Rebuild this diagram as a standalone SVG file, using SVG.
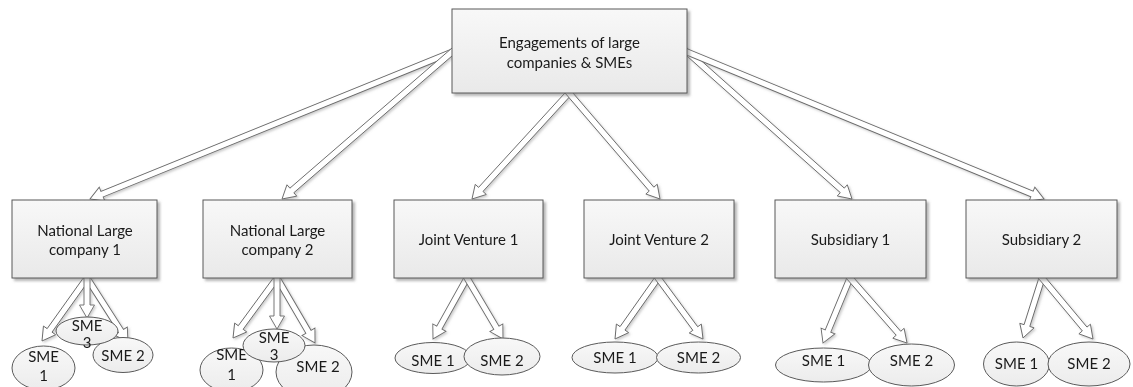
<svg xmlns="http://www.w3.org/2000/svg" width="1133" height="387" viewBox="0 0 1133 387">
  <defs>
    <linearGradient id="boxFill" x1="0" y1="0" x2="0" y2="1">
      <stop offset="0" stop-color="#f8f8f8"/>
      <stop offset="1" stop-color="#e9e9e9"/>
    </linearGradient>
    <linearGradient id="ovalFill" x1="0" y1="0" x2="0" y2="1">
      <stop offset="0" stop-color="#f8f8f8"/>
      <stop offset="1" stop-color="#ececec"/>
    </linearGradient>
    <filter id="shadow" x="-10%" y="-10%" width="130%" height="140%">
      <feDropShadow dx="2.5" dy="2.5" stdDeviation="1.2" flood-color="#7a7a7a" flood-opacity="0.55"/>
    </filter>
    <filter id="arrowShadow" x="-20%" y="-20%" width="140%" height="140%">
      <feDropShadow dx="1.5" dy="1.5" stdDeviation="0.8" flood-color="#999" flood-opacity="0.5"/>
    </filter>
  </defs>
  <style>
    .box { fill: url(#boxFill); stroke: #595959; stroke-width: 1; filter: url(#shadow); }
    .oval { fill: url(#ovalFill); stroke: #595959; stroke-width: 1; }
    .arrow { fill: #ffffff; stroke: #6a6a6a; stroke-width: 0.9; stroke-linejoin: miter; }
    text { font-family: Lato, "Liberation Sans", sans-serif; font-size: 15px; fill: #1a1a1a; text-anchor: middle; }
  </style>
  <rect width="1133" height="387" fill="#ffffff"/>

  <!-- hollow block arrows -->
  <g id="connectors" filter="url(#arrowShadow)">
    <path class="arrow" transform="translate(452,52) rotate(157.9)" d="M-6,-3 H377.7 V-7.5 L390.7,0 L377.7,7.5 V3 H-6 Z"/>
    <path class="arrow" transform="translate(452,52) rotate(139.15)" d="M-6,-3 H211.7 V-7.5 L224.7,0 L211.7,7.5 V3 H-6 Z"/>
    <path class="arrow" transform="translate(569,93) rotate(132.46)" d="M-6,-3 H130.7 V-7.5 L143.7,0 L130.7,7.5 V3 H-6 Z"/>
    <path class="arrow" transform="translate(569,93) rotate(49.35)" d="M-6,-3 H126.7 V-7.5 L139.7,0 L126.7,7.5 V3 H-6 Z"/>
    <path class="arrow" transform="translate(687,52) rotate(41.7)" d="M-6,-3 H208 V-7.5 L221,0 L208,7.5 V3 H-6 Z"/>
    <path class="arrow" transform="translate(687,52) rotate(22.38)" d="M-6,-3 H373.1 V-7.5 L386.1,0 L373.1,7.5 V3 H-6 Z"/>

    <path class="arrow" transform="translate(87,278) rotate(125.54)" d="M-6,-3 H64.4 V-7.5 L77.4,0 L64.4,7.5 V3 H-6 Z"/>
    <path class="arrow" transform="translate(87,278) rotate(57.36)" d="M-6,-3 H63 V-7.5 L76,0 L63,7.5 V3 H-6 Z"/>
    <path class="arrow" transform="translate(87,278) rotate(90)" d="M-6,-3 H27 V-7.5 L40,0 L27,7.5 V3 H-6 Z"/>

    <path class="arrow" transform="translate(277,278) rotate(126.25)" d="M-6,-3 H61.4 V-7.5 L74.4,0 L61.4,7.5 V3 H-6 Z"/>
    <path class="arrow" transform="translate(277,278) rotate(59.68)" d="M-6,-3 H62.3 V-7.5 L75.3,0 L62.3,7.5 V3 H-6 Z"/>
    <path class="arrow" transform="translate(277,278) rotate(90)" d="M-6,-3 H38 V-7.5 L51,0 L38,7.5 V3 H-6 Z"/>

    <path class="arrow" transform="translate(467,278) rotate(119.13)" d="M-6,-3 H56.8 V-7.5 L69.8,0 L56.8,7.5 V3 H-6 Z"/>
    <path class="arrow" transform="translate(467,278) rotate(59.45)" d="M-6,-3 H57.8 V-7.5 L70.8,0 L57.8,7.5 V3 H-6 Z"/>

    <path class="arrow" transform="translate(658,278) rotate(125.18)" d="M-6,-3 H61.6 V-7.5 L74.6,0 L61.6,7.5 V3 H-6 Z"/>
    <path class="arrow" transform="translate(658,278) rotate(53.58)" d="M-6,-3 H62.8 V-7.5 L75.8,0 L62.8,7.5 V3 H-6 Z"/>

    <path class="arrow" transform="translate(850,278) rotate(112.55)" d="M-6,-3 H57.4 V-7.5 L70.4,0 L57.4,7.5 V3 H-6 Z"/>
    <path class="arrow" transform="translate(850,278) rotate(48.75)" d="M-6,-3 H73.5 V-7.5 L86.5,0 L73.5,7.5 V3 H-6 Z"/>

    <path class="arrow" transform="translate(1042,278) rotate(107.57)" d="M-6,-3 H49.9 V-7.5 L62.9,0 L49.9,7.5 V3 H-6 Z"/>
    <path class="arrow" transform="translate(1042,278) rotate(50.1)" d="M-6,-3 H66.5 V-7.5 L79.5,0 L66.5,7.5 V3 H-6 Z"/>
  </g>

  <!-- top node -->
  <g id="engagements">
    <rect class="box" x="452" y="9" width="235" height="84"/>
    <text x="569.5" y="48">Engagements of large</text>
    <text x="569.5" y="68">companies &amp; SMEs</text>
  </g>

  <!-- second level -->
  <g id="national-large-company-1">
    <rect class="box" x="12" y="200" width="145" height="78"/>
    <text x="85" y="236">National Large</text>
    <text x="85" y="255">company 1</text>
  </g>
  <g id="national-large-company-2">
    <rect class="box" x="203" y="200" width="149" height="78"/>
    <text x="277.5" y="236">National Large</text>
    <text x="277.5" y="255">company 2</text>
  </g>
  <g id="joint-venture-1">
    <rect class="box" x="394" y="200" width="149" height="78"/>
    <text x="468.5" y="245">Joint Venture 1</text>
  </g>
  <g id="joint-venture-2">
    <rect class="box" x="584" y="200" width="150" height="78"/>
    <text x="659" y="245">Joint Venture 2</text>
  </g>
  <g id="subsidiary-1">
    <rect class="box" x="775" y="200" width="151" height="78"/>
    <text x="850.5" y="245">Subsidiary 1</text>
  </g>
  <g id="subsidiary-2">
    <rect class="box" x="966" y="200" width="151" height="78"/>
    <text x="1041.5" y="245">Subsidiary 2</text>
  </g>

  <!-- SMEs under National Large company 1 -->
  <g id="nlc1-sme-1">
    <ellipse class="oval" cx="43.5" cy="368" rx="31.5" ry="22"/>
    <text x="43.5" y="362">SME</text>
    <text x="43.5" y="381">1</text>
  </g>
  <g id="nlc1-sme-2">
    <ellipse class="oval" cx="123" cy="355" rx="30" ry="17.5"/>
    <text x="123" y="361">SME 2</text>
  </g>
  <g id="nlc1-sme-3">
    <ellipse class="oval" cx="87" cy="331" rx="31" ry="14"/>
    <text x="87" y="331">SME</text>
    <text x="87" y="348">3</text>
  </g>

  <!-- SMEs under National Large company 2 -->
  <g id="nlc2-sme-1">
    <ellipse class="oval" cx="231.5" cy="370" rx="31.5" ry="22"/>
    <text x="231.5" y="360">SME</text>
    <text x="231.5" y="380">1</text>
  </g>
  <g id="nlc2-sme-2">
    <ellipse class="oval" cx="314" cy="372" rx="38" ry="27"/>
    <text x="318" y="372">SME 2</text>
  </g>
  <g id="nlc2-sme-3">
    <ellipse class="oval" cx="274" cy="345.5" rx="31" ry="16.5"/>
    <text x="274" y="343">SME</text>
    <text x="274" y="360">3</text>
  </g>

  <!-- SMEs under Joint Venture 1 -->
  <g id="jv1-sme-1">
    <ellipse class="oval" cx="433" cy="358" rx="38" ry="15.5"/>
    <text x="433" y="366">SME 1</text>
  </g>
  <g id="jv1-sme-2">
    <ellipse class="oval" cx="502" cy="356.5" rx="38" ry="18.5"/>
    <text x="502" y="366">SME 2</text>
  </g>

  <!-- SMEs under Joint Venture 2 -->
  <g id="jv2-sme-1">
    <ellipse class="oval" cx="615" cy="357.5" rx="43" ry="15.5"/>
    <text x="615" y="363">SME 1</text>
  </g>
  <g id="jv2-sme-2">
    <ellipse class="oval" cx="698.5" cy="357.5" rx="42" ry="15.5"/>
    <text x="698.5" y="363">SME 2</text>
  </g>

  <!-- SMEs under Subsidiary 1 -->
  <g id="sub1-sme-1">
    <ellipse class="oval" cx="823.5" cy="365" rx="48" ry="17"/>
    <text x="823.5" y="366">SME 1</text>
  </g>
  <g id="sub1-sme-2">
    <ellipse class="oval" cx="911.5" cy="365" rx="43" ry="21"/>
    <text x="911.5" y="366">SME 2</text>
  </g>

  <!-- SMEs under Subsidiary 2 -->
  <g id="sub2-sme-1">
    <ellipse class="oval" cx="1016.5" cy="364" rx="33" ry="22"/>
    <text x="1016.5" y="369">SME 1</text>
  </g>
  <g id="sub2-sme-2">
    <ellipse class="oval" cx="1089" cy="364" rx="41" ry="22"/>
    <text x="1089" y="369">SME 2</text>
  </g>
</svg>
